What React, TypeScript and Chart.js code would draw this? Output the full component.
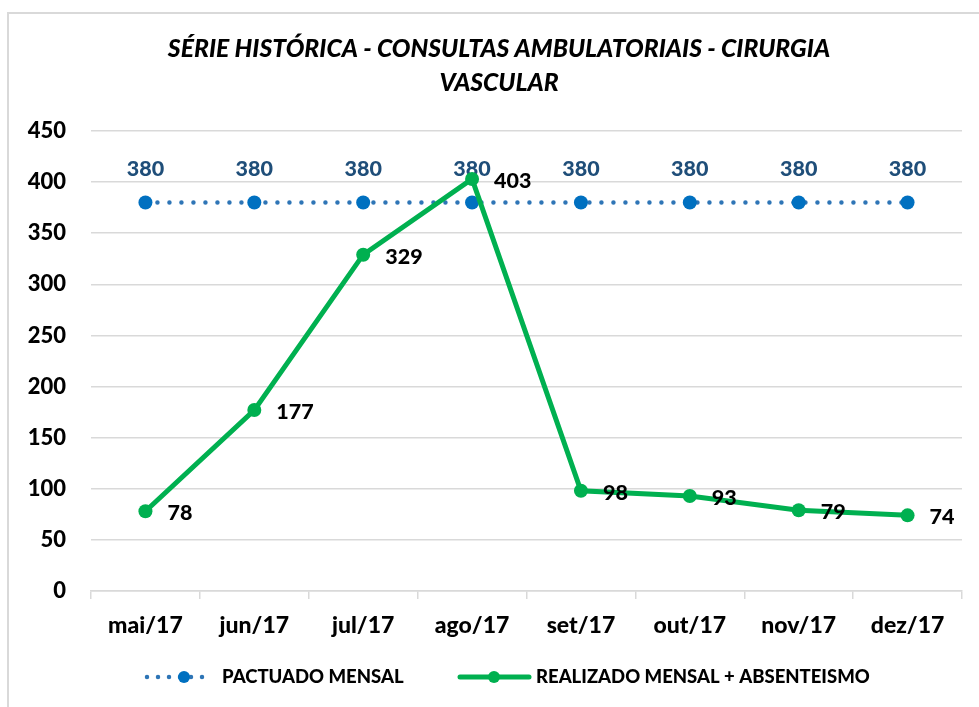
import React, { useEffect, useRef } from "react";
import { Chart, registerables } from "chart.js";

Chart.register(...registerables);

const categories = ["mai/17", "jun/17", "jul/17", "ago/17", "set/17", "out/17", "nov/17", "dez/17"];
const pactuado = [380, 380, 380, 380, 380, 380, 380, 380];
const realizado = [78, 177, 329, 403, 98, 93, 79, 74];
const titleLines = ["SÉRIE HISTÓRICA - CONSULTAS AMBULATORIAIS - CIRURGIA", "VASCULAR"];
const seriesNames = ["PACTUADO MENSAL", "REALIZADO MENSAL + ABSENTEISMO"];
const yMin = 0;
const yMax = 450;
const yStep = 50;

const FONT = "Lato, 'Open Sans', sans-serif";
const W = "900";
const BLUE = "#2e75b6";
const BLUE_MARK = "#0070c0";
const BLUE_LABEL = "#1f4e79";
const GREEN = "#00b050";

const titlePlugin = {
  id: "titleDraw",
  afterDraw(chart: any) {
    const ctx = chart.ctx;
    ctx.save();
    ctx.font = `italic ${W} 24.7px ${FONT}`;
    ctx.fillStyle = "#000";
    ctx.textAlign = "center";
    ctx.textBaseline = "middle";
    ctx.fillText(titleLines[0], 499, 49);
    ctx.fillText(titleLines[1], 499, 83);
    ctx.restore();
  },
};

const legendPlugin = {
  id: "legendDraw",
  afterDraw(chart: any) {
    const ctx = chart.ctx;
    const y = 677;
    ctx.save();
    ctx.strokeStyle = BLUE;
    ctx.lineWidth = 4.5;
    ctx.lineCap = "round";
    ctx.setLineDash([0, 11]);
    ctx.beginPath();
    ctx.moveTo(147, y);
    ctx.lineTo(213, y);
    ctx.stroke();
    ctx.setLineDash([]);
    ctx.fillStyle = BLUE_MARK;
    ctx.beginPath();
    ctx.arc(184, y, 6, 0, Math.PI * 2);
    ctx.fill();
    ctx.strokeStyle = GREEN;
    ctx.lineWidth = 5;
    ctx.lineCap = "round";
    ctx.beginPath();
    ctx.moveTo(460, y);
    ctx.lineTo(529, y);
    ctx.stroke();
    ctx.fillStyle = GREEN;
    ctx.beginPath();
    ctx.arc(494, y, 6, 0, Math.PI * 2);
    ctx.fill();
    ctx.font = `${W} 18.5px ${FONT}`;
    ctx.fillStyle = "#000";
    ctx.textBaseline = "middle";
    ctx.textAlign = "left";
    ctx.fillText(seriesNames[0], 222, y);
    ctx.fillText(seriesNames[1], 536, y);
    ctx.restore();
  },
};

const labelsPlugin = {
  id: "dataLabels",
  beforeDatasetsDraw(chart: any) {
    const ctx = chart.ctx;
    const meta = chart.getDatasetMeta(1);
    ctx.save();
    ctx.font = `${W} 21.5px ${FONT}`;
    ctx.fillStyle = BLUE_LABEL;
    ctx.textAlign = "center";
    ctx.textBaseline = "middle";
    meta.data.forEach((pt: any, i: number) => {
      ctx.fillText(String(pactuado[i]), pt.x, pt.y - 33);
    });
    ctx.restore();
  },
  afterDatasetsDraw(chart: any) {
    const ctx = chart.ctx;
    const meta = chart.getDatasetMeta(0);
    ctx.save();
    ctx.font = `${W} 21.5px ${FONT}`;
    ctx.fillStyle = "#000";
    ctx.textAlign = "left";
    ctx.textBaseline = "middle";
    meta.data.forEach((pt: any, i: number) => {
      ctx.fillText(String(realizado[i]), pt.x + 22, pt.y + 2);
    });
    ctx.restore();
  },
};

export default function App() {
  const ref = useRef<HTMLCanvasElement | null>(null);

  useEffect(() => {
    if (!ref.current) return;
    const chart = new Chart(ref.current, {
      type: "line",
      data: {
        labels: categories,
        datasets: [
          {
            label: seriesNames[1],
            data: realizado,
            borderColor: GREEN,
            backgroundColor: GREEN,
            borderWidth: 5,
            pointRadius: 7,
            pointBackgroundColor: GREEN,
            pointBorderColor: GREEN,
            pointBorderWidth: 0,
            tension: 0,
            order: 0,
          },
          {
            label: seriesNames[0],
            data: pactuado,
            borderColor: BLUE,
            backgroundColor: BLUE_MARK,
            borderWidth: 4.5,
            borderDash: [0, 12],
            borderCapStyle: "round",
            pointRadius: 7,
            pointBackgroundColor: BLUE_MARK,
            pointBorderColor: BLUE_MARK,
            pointBorderWidth: 0,
            tension: 0,
            order: 1,
          },
        ],
      },
      options: {
        responsive: false,
        animation: false,
        layout: { padding: { left: 0, right: 17, top: 131, bottom: 0 } },
        plugins: {
          legend: { display: false },
          title: { display: false },
          tooltip: { enabled: false },
        },
        scales: {
          x: {
            offset: true,
            grid: {
              offset: true,
              drawOnChartArea: false,
              tickLength: 8,
              color: "#d9d9d9",
              lineWidth: 1.5,
            },
            border: { color: "#d9d9d9", width: 1.5 },
            ticks: {
              font: { family: FONT, size: 23, weight: W },
              color: "#000",
              padding: 13,
              maxRotation: 0,
            },
            afterFit: (s: any) => {
              s.height = 116;
            },
          },
          y: {
            min: yMin,
            max: yMax,
            ticks: {
              stepSize: yStep,
              font: { family: FONT, size: 22, weight: W },
              color: "#000",
              padding: 25,
            },
            grid: { color: "#d9d9d9", drawTicks: false, lineWidth: 1.5 },
            border: { display: false },
            afterFit: (s: any) => {
              s.width = 91;
            },
          },
        },
      },
      plugins: [titlePlugin, legendPlugin, labelsPlugin],
    } as any);
    return () => chart.destroy();
  }, []);

  return (
    <div>
      <div
        style={{
          position: "fixed",
          left: 7,
          top: 12,
          width: 972,
          height: 695,
          borderTop: "2px solid #d9d9d9",
          borderLeft: "2px solid #d9d9d9",
          boxSizing: "border-box",
        }}
      />
      <canvas
        ref={ref}
        width={979}
        height={707}
        style={{ position: "fixed", left: 0, top: 0, width: 979, height: 707 }}
      />
    </div>
  );
}
